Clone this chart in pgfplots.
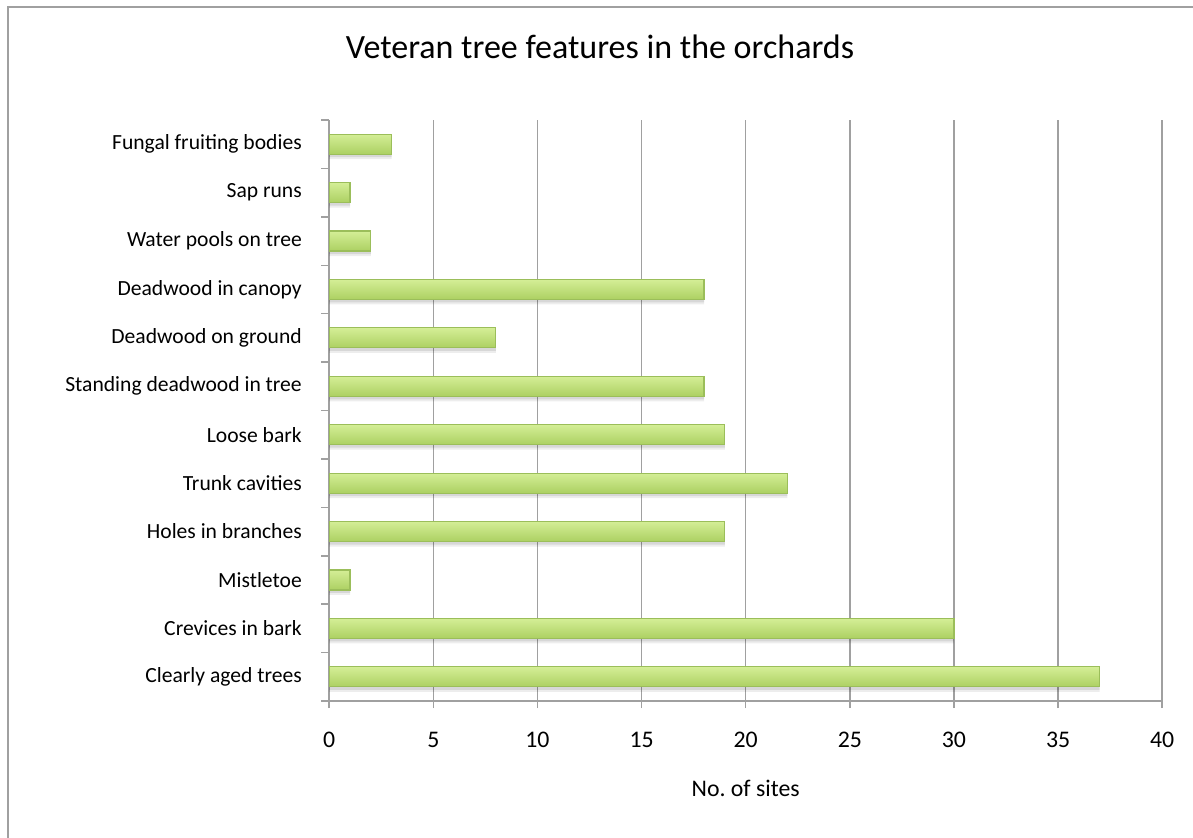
\documentclass[border=0pt]{standalone}
\usepackage{pgfplots}
\pgfplotsset{compat=1.18}
\usepackage{fontspec}
\setmainfont{Carlito}
\frenchspacing
\definecolor{gridc}{RGB}{160,160,160}
\definecolor{bartop}{RGB}{212,238,150}
\definecolor{barmid}{RGB}{222,245,166}
\definecolor{barbot}{RGB}{172,208,98}
\definecolor{bardraw}{RGB}{155,190,90}

\begin{document}
\begin{tikzpicture}
\useasboundingbox (0,0) rectangle (596.5pt,418.5pt);
\fill[white] (0,0) rectangle (596.5pt,418.5pt);
\begin{scope}
\clip (0,0) rectangle (596.5pt,418.5pt);
\draw[gridc, line width=1pt] (3.75pt,-10pt) -- (3.75pt,414.75pt) -- (610pt,414.75pt);
\end{scope}
\node[font=\fontsize{17}{20}\selectfont] at (300pt,395pt) {Veteran tree features in the orchards};
\begin{axis}[
  at={(164.6pt,68pt)}, anchor=south west,
  scale only axis, width=416.5pt, height=290.5pt,
  xmin=0, xmax=40, ymin=-0.5, ymax=11.5,
  axis lines*=left,
  xtick={0,5,...,40},
  ytick={0,...,11},
  yticklabels={Clearly aged trees, Crevices in bark, Mistletoe, Holes in branches, Trunk cavities, Loose bark, Standing deadwood in tree, Deadwood on ground, Deadwood in canopy, Water pools on tree, Sap runs, Fungal fruiting bodies},
  major tick length=0pt,
  extra y ticks={-0.5,0.5,...,11.5},
  extra y tick labels={},
  extra y tick style={major tick length=4pt, tick align=outside},
  extra x ticks={0,5,...,40},
  extra x tick labels={},
  extra x tick style={major tick length=3.5pt, tick align=outside},
  tick style={gridc, line width=0.75pt},
  axis line style={gridc, line width=0.75pt},
  xmajorgrids, grid style={gridc, line width=0.75pt},
  /pgf/number format/assume math mode=true,
  xticklabel style={anchor=center, yshift=-19.5pt, font=\fontsize{11.9}{14}\selectfont},
  yticklabel style={anchor=east, inner sep=0pt, xshift=-13.5pt, font=\fontsize{10.8}{13}\selectfont},
  xlabel={No. of sites},
  xlabel style={at={(axis description cs:0.5,0)}, anchor=center, yshift=-43.5pt, font=\fontsize{11.9}{14}\selectfont},
  xbar, bar width=10pt,
  mybar/.style={xbar, bar shift=0pt, bar width=10pt, draw=bardraw, line width=0.6pt, top color=bartop, middle color=barmid, bottom color=barbot},
]
% soft shadow
\addplot[xbar, bar shift=-2.5pt, bar width=10pt, fill=black, fill opacity=0.07, draw=none] coordinates {
(37,0) (30,1) (1,2) (19,3) (22,4) (19,5) (18,6) (8,7) (18,8) (2,9) (1,10) (3,11)};
\addplot[xbar, bar shift=-2pt, bar width=9pt, fill=black, fill opacity=0.09, draw=none] coordinates {
(37,0) (30,1) (1,2) (19,3) (22,4) (19,5) (18,6) (8,7) (18,8) (2,9) (1,10) (3,11)};
% bars, one plot each so that each bar has its own gradient
\addplot[mybar] coordinates {(37,0)};
\addplot[mybar] coordinates {(30,1)};
\addplot[mybar] coordinates {(1,2)};
\addplot[mybar] coordinates {(19,3)};
\addplot[mybar] coordinates {(22,4)};
\addplot[mybar] coordinates {(19,5)};
\addplot[mybar] coordinates {(18,6)};
\addplot[mybar] coordinates {(8,7)};
\addplot[mybar] coordinates {(18,8)};
\addplot[mybar] coordinates {(2,9)};
\addplot[mybar] coordinates {(1,10)};
\addplot[mybar] coordinates {(3,11)};
\end{axis}
\end{tikzpicture}
\end{document}
